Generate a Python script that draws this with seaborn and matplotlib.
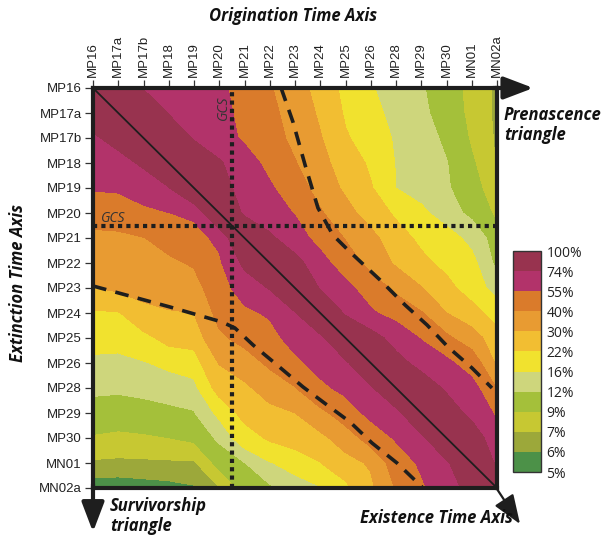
import numpy as np
import matplotlib
matplotlib.use("Agg")
import matplotlib.pyplot as plt
import seaborn as sns

# ---------------- data ----------------
stages = ["MP16", "MP17a", "MP17b", "MP18", "MP19", "MP20", "MP21", "MP22",
          "MP23", "MP24", "MP25", "MP26", "MP28", "MP29", "MP30", "MN01", "MN02a"]

levels = [5, 6, 7, 9, 12, 16, 22, 30, 40, 55, 74, 100]
level_labels = ["5%", "6%", "7%", "9%", "12%", "16%", "22%", "30%", "40%", "55%", "74%", "100%"]
level_colors = ["#4c9148", "#9ca83a", "#c7c832", "#a4c03a", "#ced67c", "#f1e22e",
                "#f2be32", "#e89b32", "#da7b2b", "#b2336a", "#98334f"]

# rows = extinction stage (top to bottom), columns = origination stage (left to right), values in %
sim_MP16  = [100, 86, 73, 68, 63, 57.5, 50, 40.7, 34, 26.5, 20, 16.3, 14.2, 12.3, 10.2, 8.2, 6.6]
sim_MP17a = [83.75, 100, 86, 73, 66, 59, 51.4, 42.7, 35.5, 28.6, 21, 17.3, 14.7, 12.7, 10.5, 8.3, 6.6]
sim_MP17b = [71, 80.3, 100, 85.7, 72.3, 62, 52.4, 44.6, 37.1, 30.5, 22.7, 18.6, 15.4, 13.5, 11.3, 8.6, 6.7]
sim_MP18  = [63.6, 67.3, 76.8, 100, 88, 76, 62.3, 50.1, 40.5, 32.4, 26.2, 20.7, 15.7, 13.9, 12.1, 9.3, 6.8]
sim_MP19  = [56.2, 57.4, 63.3, 72.5, 100, 80.9, 67.3, 57, 45.3, 35.6, 28.3, 22.5, 15.9, 14.1, 12.3, 10.3, 6.95]
sim_MP20  = [44.5, 45, 50.9, 54.6, 58.2, 100, 69.9, 62, 54, 41, 32.9, 26.1, 20.8, 17, 13.7, 11, 8.4]
sim_MP21  = [37.5, 38, 39.5, 44.5, 48.7, 59, 100, 77.5, 61.9, 49.4, 39.1, 32.4, 24.9, 20.4, 17.9, 14.6, 10]
sim_MP22  = [33.7, 34.8, 36.1, 37.7, 41.2, 51.9, 78.3, 100, 80.9, 60.8, 46.3, 36, 28.6, 23.6, 20.1, 17.3, 10.8]
sim_MP23  = [29.6, 31.5, 32.7, 33.6, 35.4, 47.6, 62.8, 75, 100, 72, 59.3, 46.8, 36.9, 30.3, 24, 18.6, 14]
sim_MP24  = [21, 21.3, 27.8, 29.4, 29.9, 43.3, 51.4, 57.1, 72.3, 100, 70.6, 57.1, 48.4, 40.6, 29.9, 24.7, 18.5]
sim_MP25  = [17.8, 17.7, 19.8, 24.3, 24.8, 38.1, 43.3, 48.9, 61.8, 68.8, 100, 81.8, 66.6, 53.6, 42, 33.8, 25]
sim_MP26  = [15, 14.8, 15.6, 17.1, 18.7, 30.3, 34.8, 41.9, 50.8, 61, 69.25, 100, 80.3, 67.8, 58.5, 46.7, 28]
sim_MP28  = [12.65, 12.5, 12.9, 13.6, 14.3, 24.7, 28.2, 33.8, 39.2, 51.1, 59.4, 70.2, 100, 84.9, 71, 60.9, 39]
sim_MP29  = [10.65, 10.4, 10.7, 11.1, 11.7, 17.1, 24.2, 27.5, 29.8, 36.6, 45.9, 59.6, 66.5, 100, 84.2, 68.5, 52]
sim_MP30  = [8.7, 8.4, 8.6, 8.95, 9.45, 12.6, 18.8, 22.9, 24.7, 27.7, 34.1, 44.5, 56.6, 68.1, 100, 85.1, 62]
sim_MN01  = [6.7, 6.6, 6.65, 6.7, 6.7, 9.7, 11.8, 15.5, 18.6, 21.7, 26.9, 31, 45.5, 57.5, 70, 100, 70]
sim_MN02a = [5.5, 5.5, 5.6, 5.7, 5.9, 6.8, 9.8, 11.3, 13, 15.5, 20, 28, 40.5, 52, 66, 80, 100]

# GCS (Grande Coupure) position, between MP20 and MP21
gcs_pos = 5.5

# dashed guide lines (stage-index units: x = origination, y = extinction)
upper_dash_x = [7.45, 7.92, 8.40, 8.91, 9.50, 10.18, 11.37, 12.36, 13.23, 14.06, 15.01, 15.8]
upper_dash_y = [0.0, 1.36, 3.08, 4.80, 5.88, 6.56, 7.68, 8.68, 9.48, 10.36, 11.2, 12.0]
lower_dash_x = [0.0, 3.05, 5.11, 5.62, 6.34, 7.29, 8.32, 9.27, 10.18, 11.05, 12.04, 13.03]
lower_dash_y = [7.92, 8.76, 9.36, 9.60, 10.28, 11.08, 11.96, 12.68, 13.36, 14.2, 15.0, 15.96]

Z = np.array([sim_MP16, sim_MP17a, sim_MP17b, sim_MP18, sim_MP19, sim_MP20, sim_MP21,
              sim_MP22, sim_MP23, sim_MP24, sim_MP25, sim_MP26, sim_MP28, sim_MP29,
              sim_MP30, sim_MN01, sim_MN02a], dtype=float)

# ---------------- style ----------------
sns.set_theme(style="white")
plt.rcParams['font.family'] = ['Liberation Sans', 'DejaVu Sans']
title_font = dict(family=['Open Sans', 'DejaVu Sans'], weight='bold', style='italic')
dark = "#1e1e1e"

fig = plt.figure(figsize=(6.16, 5.35), dpi=100)
W, H = 616, 535
ax = fig.add_axes([93 / W, 1 - 488 / H, 404 / W, 400 / H])

n = len(stages)
X, Y = np.meshgrid(np.arange(n), np.arange(n))
cs = ax.contourf(X, Y, Z, levels=levels, colors=level_colors)
cs.set_edgecolor('face')
cs.set_linewidth(0.4)

ax.set_xlim(0, n - 1)
ax.set_ylim(n - 1, 0)

# diagonal line
ax.plot([0, n - 1], [0, n - 1], color=dark, lw=1.3, zorder=3)

# GCS dotted lines
ax.axvline(gcs_pos, color=dark, lw=3.0, linestyle=(0, (1, 1.0)), zorder=4)
ax.axhline(gcs_pos, color=dark, lw=3.0, linestyle=(0, (1, 1.0)), zorder=4)
ax.text(0.8, 5.22, "GCS", fontsize=10, style='italic', color="#333333",
        ha='center', va='center', family=['Open Sans', 'DejaVu Sans'], zorder=5)
ax.text(5.15, 0.78, "GCS", fontsize=10, style='italic', color="#333333", rotation=90,
        ha='center', va='center', family=['Open Sans', 'DejaVu Sans'], zorder=5)

# dashed guide lines
ax.plot(upper_dash_x, upper_dash_y, color=dark, lw=2.6, linestyle=(0, (3.8, 2.6)), zorder=4)
ax.plot(lower_dash_x, lower_dash_y, color=dark, lw=2.6, linestyle=(0, (3.8, 2.6)), zorder=4)

# ticks
ax.set_xticks(range(n))
ax.set_xticklabels(stages, rotation=90)
ax.xaxis.tick_top()
ax.set_yticks(range(n))
ax.set_yticklabels(stages)
ax.tick_params(axis='both', direction='out', length=6, width=0.9, color="#333333",
               labelsize=9.5, labelcolor="#222222", pad=2)
ax.tick_params(axis='x', top=True, bottom=False)
ax.tick_params(axis='y', left=True, right=False)

for s in ax.spines.values():
    s.set_visible(True)
    s.set_linewidth(3.0)
    s.set_color(dark)
    s.set_zorder(6)

# arrows
head = '-|>,head_length=1.0,head_width=0.38'
arrow_kw = dict(arrowstyle=head, lw=3.0, color=dark, mutation_scale=18, shrinkA=0, shrinkB=0)
ax.annotate("", xy=(1.09, 1.0), xytext=(0.99, 1.0), xycoords='axes fraction',
            arrowprops=arrow_kw, annotation_clip=False)
ax.annotate("", xy=(0.0, -0.11), xytext=(0.0, 0.01), xycoords='axes fraction',
            arrowprops=arrow_kw, annotation_clip=False)
ax.annotate("", xy=(1.057, -0.09), xytext=(0.995, 0.005), xycoords='axes fraction',
            arrowprops=dict(arrowstyle=head, lw=1.6, color=dark, mutation_scale=18,
                            shrinkA=0, shrinkB=0),
            annotation_clip=False)

# colour legend
cax = fig.add_axes([513 / W, 1 - 472 / H, 28 / W, 221 / H])
cb = fig.colorbar(cs, cax=cax, spacing='uniform', ticks=levels)
cb.ax.set_yticklabels(level_labels)
cb.ax.tick_params(length=0, labelsize=10, pad=4, labelcolor="#222222")
for t in cb.ax.get_yticklabels():
    t.set_family(['Open Sans', 'DejaVu Sans'])
cb.outline.set_linewidth(1.0)
cb.outline.set_edgecolor("#333333")

# axis titles and triangle labels
fig.text(293 / W, 1 - 16 / H, "Origination Time Axis", fontsize=12, ha='center', va='center',
         color="#111111", **title_font)
fig.text(18 / W, 1 - 283 / H, "Extinction Time Axis", fontsize=12, ha='center', va='center',
         rotation=90, color="#111111", **title_font)
fig.text(504 / W, 1 - 125 / H, "Prenascence\ntriangle", fontsize=12, ha='left', va='center',
         linespacing=1.15, color="#111111", **title_font)
fig.text(110 / W, 1 - 516 / H, "Survivorship\ntriangle", fontsize=12, ha='left', va='center',
         linespacing=1.15, color="#111111", **title_font)
fig.text(436 / W, 1 - 518 / H, "Existence Time Axis", fontsize=12, ha='center', va='center',
         color="#111111", **title_font)

fig.savefig("out.png", dpi=100)
